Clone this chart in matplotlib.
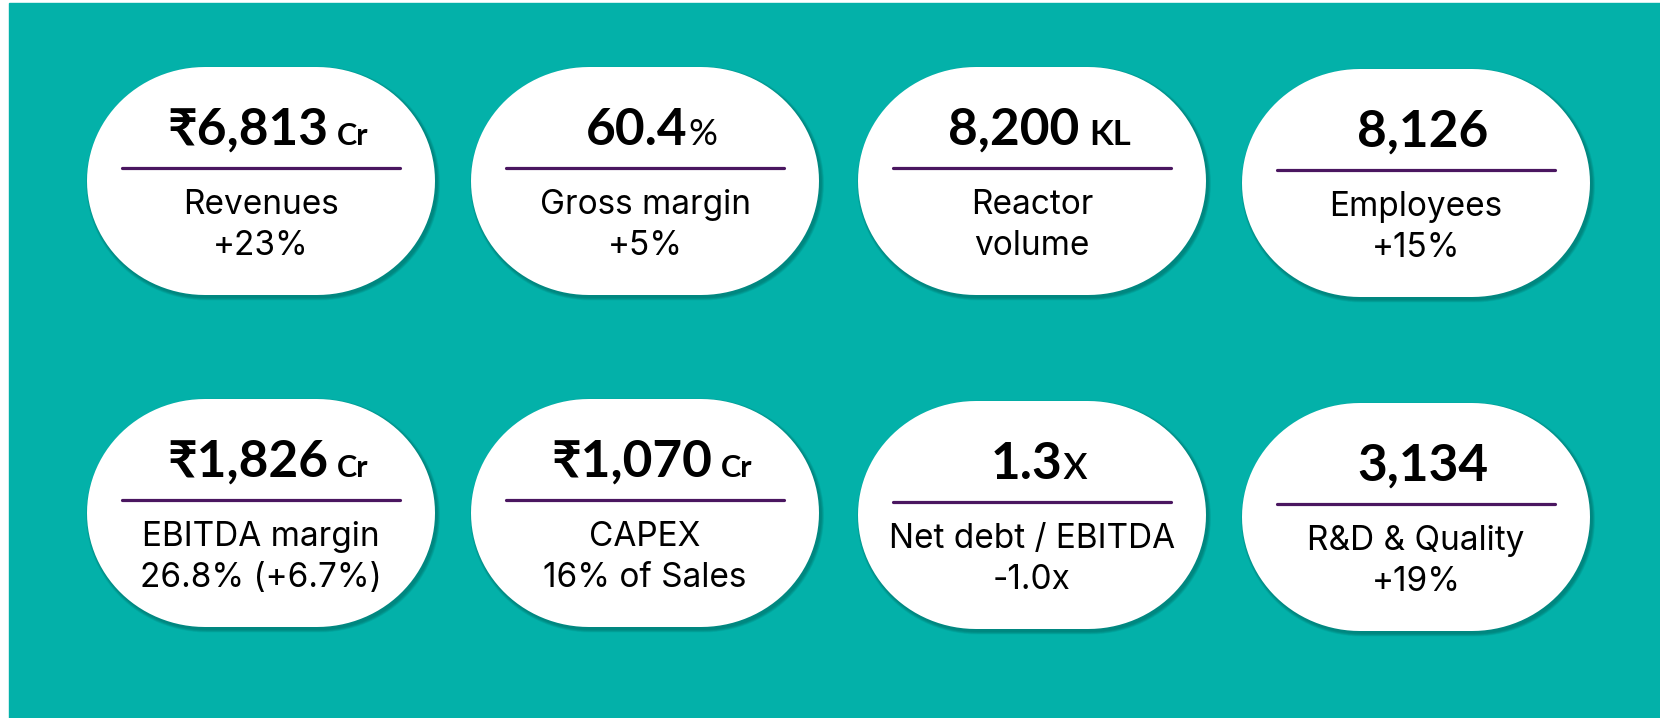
import numpy as np
import matplotlib
matplotlib.use("Agg")
import matplotlib.pyplot as plt
from matplotlib.patches import Polygon, Rectangle

# ---- data ----
values = ["₹6,813", "60.4", "8,200", "8,126", "₹1,826", "₹1,070", "1.3", "3,134"]
units = ["Cr", "%", "KL", "", "Cr", "Cr", "x", ""]
labels = ["Revenues", "Gross margin", "Reactor", "Employees",
          "EBITDA margin", "CAPEX", "Net debt / EBITDA", "R&D & Quality"]
sublabels = ["+23%", "+5%", "volume", "+15%",
             "26.8% (+6.7%)", "16% of Sales", "-1.0x", "+19%"]

# ---- layout ----
col_x = [261, 645, 1032, 1416]
tops = [67, 67, 67, 69, 399, 399, 401, 403]
card_w, card_h = 348, 228

TEAL = "#03b1a9"
PURPLE = "#4a1660"
FONT = ["Lato", "Noto Sans", "DejaVu Sans"]
LABEL_FONT = ["Inter", "Lato", "DejaVu Sans"]

# unit -> (size, weight, gap in px)
unit_style = {"Cr": (22, "bold", 9), "KL": (25, "bold", 10),
              "%": (26, "normal", 1), "x": (36, "normal", 0), "": (1, "normal", 0)}


def card_shape(cx, cy, w, h, rx, ry, n=30):
    pts = []
    corners = [(cx + w / 2 - rx, cy - h / 2 + ry, -90, 0),
               (cx + w / 2 - rx, cy + h / 2 - ry, 0, 90),
               (cx - w / 2 + rx, cy + h / 2 - ry, 90, 180),
               (cx - w / 2 + rx, cy - h / 2 + ry, 180, 270)]
    for ox, oy, a0, a1 in corners:
        t = np.radians(np.linspace(a0, a1, n))
        pts.append(np.column_stack([ox + rx * np.cos(t), oy + ry * np.sin(t)]))
    return np.vstack(pts)


fig = plt.figure(figsize=(16.6, 7.18), dpi=100)
ax = fig.add_axes([0, 0, 1, 1])
ax.set_xlim(0, 1660)
ax.set_ylim(718, 0)
ax.axis("off")

ax.add_patch(Rectangle((9, 3), 1660, 718, color=TEAL, zorder=0))

renderer = fig.canvas.get_renderer()

for i in range(8):
    cx = col_x[i % 4]
    top = tops[i]
    cy = top + card_h / 2

    # soft shadow
    for k in range(6, 0, -1):
        sh = card_shape(cx + 2, cy + 2.5, card_w + k, card_h + k, 118 + k / 2, 114 + k / 2)
        ax.add_patch(Polygon(sh, closed=True, color="#00413d", alpha=0.07, lw=0, zorder=1))
    ax.add_patch(Polygon(card_shape(cx, cy, card_w, card_h, 118, 114),
                         closed=True, color="white", lw=0, zorder=2))

    # headline number + unit, centred as a group
    t1 = ax.text(0, top + 78, values[i], fontsize=37, fontweight="bold",
                 family=FONT, ha="left", va="baseline", zorder=3)
    w1 = t1.get_window_extent(renderer).width
    size, weight, gap = unit_style[units[i]]
    t2 = ax.text(0, top + 78, units[i], fontsize=size, fontweight=weight,
                 family=FONT, ha="left", va="baseline", zorder=3)
    w2 = t2.get_window_extent(renderer).width if units[i] else 0
    total = w1 + gap + w2
    x0 = cx + 7 - total / 2
    t1.set_x(x0)
    t2.set_x(x0 + w1 + gap)

    ax.plot([cx - 139, cx + 139], [top + 101, top + 101], color=PURPLE,
            lw=2.3, solid_capstyle="round", zorder=3)

    ax.text(cx, top + 147, labels[i], fontsize=24, family=LABEL_FONT,
            fontweight="normal", ha="center", va="baseline", zorder=3)
    ax.text(cx, top + 188, sublabels[i], fontsize=24, family=LABEL_FONT,
            fontweight="normal", ha="center", va="baseline", zorder=3)

fig.savefig("out.png", dpi=100)
